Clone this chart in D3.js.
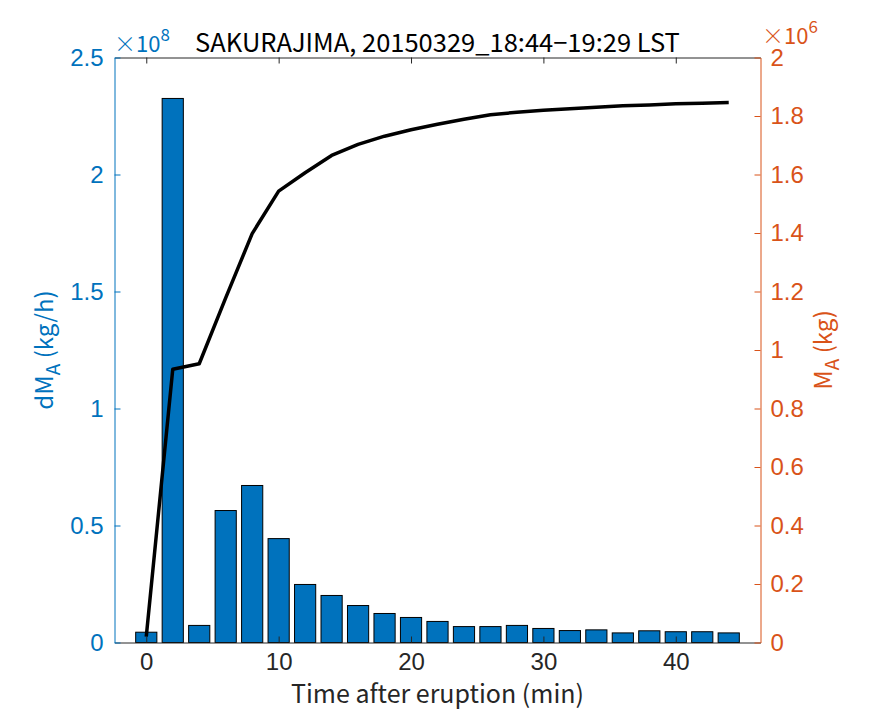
<!DOCTYPE html>
<html>
<head>
<meta charset="utf-8">
<script src="https://cdn.jsdelivr.net/npm/d3@7"></script>
<style>
  html, body { margin: 0; padding: 0; background: #fff; }
  svg { display: block; font-family: "Noto Sans CJK JP", "Noto Sans", sans-serif; }
</style>
</head>
<body>
<svg id="chart" width="875" height="723"></svg>
<script>
// ---- data ----
const minutes = [0, 2, 4, 6, 8, 10, 12, 14, 16, 18, 20, 22, 24, 26, 28, 30, 32, 34, 36, 38, 40, 42, 44];
const massRate = [0.044e8, 2.325e8, 0.073e8, 0.564e8, 0.671e8, 0.444e8, 0.248e8, 0.201e8, 0.158e8, 0.124e8,
                  0.107e8, 0.090e8, 0.068e8, 0.068e8, 0.073e8, 0.060e8, 0.051e8, 0.054e8, 0.041e8, 0.050e8,
                  0.046e8, 0.046e8, 0.041e8];
const cumMass = [0.02e6, 0.934e6, 0.953e6, 1.178e6, 1.398e6, 1.543e6, 1.606e6, 1.665e6, 1.703e6, 1.731e6,
                 1.753e6, 1.772e6, 1.789e6, 1.804e6, 1.813e6, 1.820e6, 1.825e6, 1.830e6, 1.835e6, 1.838e6,
                 1.842e6, 1.844e6, 1.846e6];
const xTicks = [0, 10, 20, 30, 40];
const leftTicks = [0, 0.5e8, 1e8, 1.5e8, 2e8, 2.5e8];
const leftTickLabels = ["0", "0.5", "1", "1.5", "2", "2.5"];
const rightTicks = [0, 0.2e6, 0.4e6, 0.6e6, 0.8e6, 1.0e6, 1.2e6, 1.4e6, 1.6e6, 1.8e6, 2.0e6];
const rightTickLabels = ["0", "0.2", "0.4", "0.6", "0.8", "1", "1.2", "1.4", "1.6", "1.8", "2"];
const titleText = "SAKURAJIMA, 20150329_18:44\u221219:29 LST";
const xLabel = "Time after eruption (min)";

// ---- layout ----
const L = 114.5, R = 760.5, T = 57.5, B = 642.5;
const blue = "#0072BD", orange = "#D95319", dark = "#262626";

const svg = d3.select("#chart");
const x = d3.scaleLinear().domain([-2.4, 46.4]).range([L, R]);
const yL = d3.scaleLinear().domain([0, 2.5e8]).range([B, T]);
const yR = d3.scaleLinear().domain([0, 2e6]).range([B, T]);

const barW = x(1.6) - x(0);

// bars
svg.append("g").selectAll("rect")
  .data(minutes)
  .join("rect")
  .attr("x", (d) => x(d) - barW / 2)
  .attr("y", (d, i) => yL(massRate[i]))
  .attr("width", barW)
  .attr("height", (d, i) => yL(0) - yL(massRate[i]))
  .attr("fill", blue)
  .attr("stroke", "#000")
  .attr("stroke-width", 1);

// line
const line = d3.line().x((d) => x(d[0])).y((d) => yR(d[1]));
svg.append("path")
  .datum(minutes.map((m, i) => [m, cumMass[i]]))
  .attr("d", line)
  .attr("fill", "none")
  .attr("stroke", "#000")
  .attr("stroke-width", 3.5)
  .attr("stroke-linejoin", "round");

// axes
const fs = 24;
const gB = svg.append("g").attr("transform", `translate(0,${B})`)
  .call(d3.axisBottom(x).tickValues(xTicks).tickSizeInner(-6).tickSizeOuter(0).tickPadding(10).tickFormat(d3.format("d")));
const gT = svg.append("g").attr("transform", `translate(0,${T})`)
  .call(d3.axisTop(x).tickValues(xTicks).tickSizeInner(-6).tickSizeOuter(0).tickFormat(""));
[gB, gT].forEach((g) => {
  g.select(".domain").attr("stroke", dark).attr("stroke-width", 1);
  g.selectAll(".tick line").attr("stroke", dark);
  g.selectAll("text").attr("fill", dark).attr("font-size", fs).attr("font-family", null);
});

const gL = svg.append("g").attr("transform", `translate(${L},0)`)
  .call(d3.axisLeft(yL).tickValues(leftTicks).tickSizeInner(-6).tickSizeOuter(0).tickPadding(11)
    .tickFormat((d, i) => leftTickLabels[i]));
gL.select(".domain").attr("stroke", blue);
gL.selectAll(".tick line").attr("stroke", blue);
gL.selectAll("text").attr("fill", blue).attr("font-size", fs).attr("font-family", null);

const gR = svg.append("g").attr("transform", `translate(${R},0)`)
  .call(d3.axisRight(yR).tickValues(rightTicks).tickSizeInner(-6).tickSizeOuter(0).tickPadding(10)
    .tickFormat((d, i) => rightTickLabels[i]));
gR.select(".domain").attr("stroke", orange);
gR.selectAll(".tick line").attr("stroke", orange);
gR.selectAll("text").attr("fill", orange).attr("font-size", fs).attr("font-family", null);

// exponent labels
const expL = svg.append("text").attr("x", 114).attr("y", 52).attr("fill", blue).attr("font-size", 22);
expL.append("tspan").attr("font-weight", 300).text("\u00d7");
expL.append("tspan").text("10");
expL.append("tspan").attr("dy", -11).attr("font-size", 17).text("8");
const expR = svg.append("text").attr("x", 762).attr("y", 44).attr("fill", orange).attr("font-size", 22);
expR.append("tspan").attr("font-weight", 300).text("\u00d7");
expR.append("tspan").text("10");
expR.append("tspan").attr("dy", -11).attr("font-size", 17).text("6");

// title
svg.append("text").attr("x", (L + R) / 2).attr("y", 52).attr("text-anchor", "middle")
  .attr("font-size", 25.5).attr("fill", "#000").text(titleText);

// x label
svg.append("text").attr("x", (L + R) / 2).attr("y", 703).attr("text-anchor", "middle")
  .attr("font-size", 25).attr("fill", dark).text(xLabel);

// left y label
const yl = svg.append("text").attr("transform", `translate(53,${(T + B) / 2}) rotate(-90)`)
  .attr("text-anchor", "middle").attr("font-size", 24).attr("fill", blue);
yl.append("tspan").text("dM");
yl.append("tspan").attr("dy", 7).attr("font-size", 19).text("A");
yl.append("tspan").attr("dy", -7).text(" (kg/h)");

// right y label
const yr = svg.append("text").attr("transform", `translate(832,${(T + B) / 2}) rotate(-90)`)
  .attr("text-anchor", "middle").attr("font-size", 24).attr("fill", orange);
yr.append("tspan").text("M");
yr.append("tspan").attr("dy", 7).attr("font-size", 19).text("A");
yr.append("tspan").attr("dy", -7).text(" (kg)");
</script>
</body>
</html>
